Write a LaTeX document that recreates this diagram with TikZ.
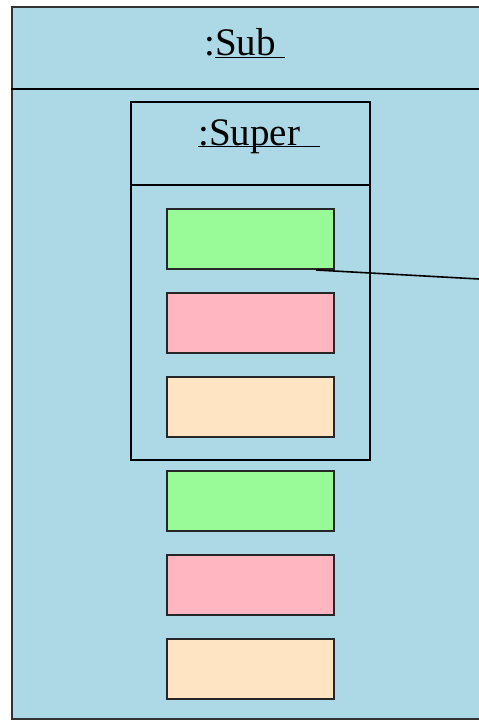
\documentclass[tikz,border=0pt]{standalone}
\usepackage{fontspec}
\setmainfont{Liberation Serif}
\definecolor{lightblue}{HTML}{ADD8E6}
\definecolor{palegreen}{HTML}{98FB98}
\definecolor{lightpink}{HTML}{FFB6C1}
\definecolor{bisque}{HTML}{FFE4C4}
\tikzset{
  objbox/.style={draw=black!80, line width=2pt, fill=lightblue,
    inner sep=0pt},
  partbox/.style={draw=black!85, line width=2pt, minimum width=167pt,
    minimum height=60pt, inner sep=0pt},
  title/.style={font=\fontsize{39}{44}\selectfont, inner sep=0pt,
    anchor=base west},
}
\begin{document}
\begin{tikzpicture}[x=1pt, y=-1pt]
  \useasboundingbox (0,0) rectangle (479,721);
  \clip (0,0) rectangle (479,721);
  % outer object
  \node[objbox, minimum width=478pt, minimum height=712pt] (sub) at (251,363) {};
  \draw[line width=2pt] (sub.west |- 0,89) -- (sub.east |- 0,89);
  \node[title] (subname) at (204,55) {:\underline{Sub\ }};
  % nested object
  \node[objbox, draw=black, minimum width=239pt, minimum height=358pt] (super) at (250.5,281) {};
  \draw[line width=2pt] (super.west |- 0,185) -- (super.east |- 0,185);
  \node[title] (supername) at (198,145)
    {\underline{\raisebox{0pt}[\height][0pt]{:Super\ \ }}};
  % parts
  \foreach \c/\y [count=\i] in {palegreen/239, lightpink/323, bisque/407,
      palegreen/501, lightpink/585, bisque/669}{
    \node[partbox, fill=\c] (p\i) at (250.5,\y) {};
  }
  % link leaving to the right
  \coordinate (far) at (479,279);
  \draw[line width=1.6pt] ([xshift=65.5pt]p1.south) -- (far);
\end{tikzpicture}
\end{document}
